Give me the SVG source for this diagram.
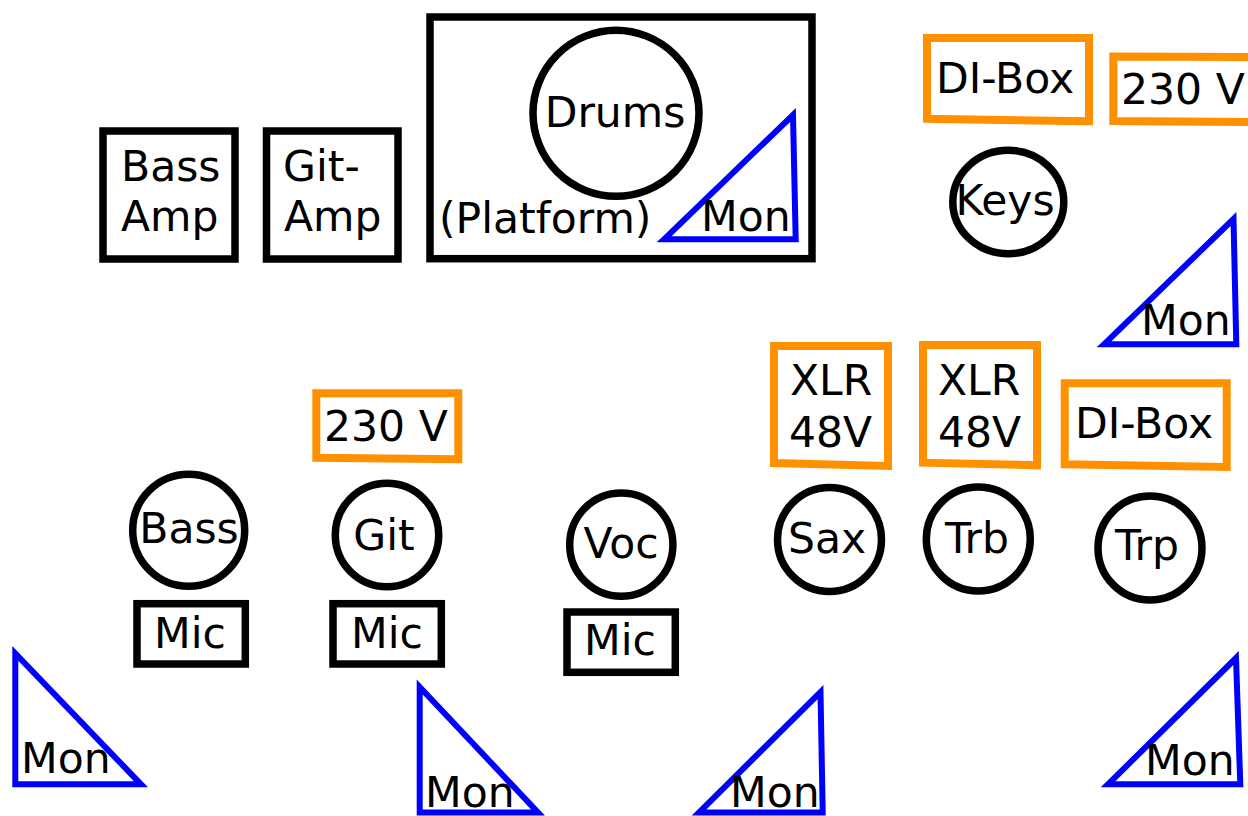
<svg xmlns="http://www.w3.org/2000/svg" width="1248" height="816" viewBox="0 0 1248 816">
<style>
text{font-family:"DejaVu Sans","Liberation Sans",sans-serif;font-size:42.5px;fill:#000}
.k{fill:#fff;stroke:#000;stroke-width:7.5}
.o{fill:#fff;stroke:#ff9100;stroke-width:8}
.b{fill:none;stroke:#0000ff;stroke-width:6;stroke-linejoin:miter;stroke-miterlimit:10}
.m{text-anchor:middle}
</style>
<rect width="1248" height="816" fill="#fff"/>
<g id="bass-amp"><rect class="k" x="103" y="131" width="132" height="128"/><text x="121" y="181">Bass</text><text x="121" y="231">Amp</text></g>
<g id="git-amp"><rect class="k" x="266.5" y="131" width="131.5" height="128"/><text x="283" y="181">Git-</text><text x="284" y="231">Amp</text></g>
<g id="platform"><rect class="k" x="430" y="17" width="382" height="241.7"/><text x="439" y="233">(Platform)</text></g>
<g id="drums"><circle class="k" cx="616" cy="113.3" r="83"/><text class="m" x="615" y="127">Drums</text></g>
<g id="mon-drums"><polygon class="b" points="664,239.3 793,115 795.7,239.3"/><text x="701" y="231">Mon</text></g>
<g id="di-box-1"><polygon class="o" points="927,38 1089,38 1089,121.3 927,118.7"/><text x="936" y="93">DI-Box</text></g>
<g id="power-1"><polygon class="o" points="1113.3,56.5 1262,57 1262,122 1113.3,121"/><text x="1121" y="104">230 V</text></g>
<g id="keys"><ellipse class="k" cx="1008.3" cy="202" rx="55.5" ry="51.7"/><text class="m" x="1005" y="215">Keys</text></g>
<g id="mon-keys"><polygon class="b" points="1104,344.3 1233.5,219 1236.3,344.3"/><text x="1141" y="335">Mon</text></g>
<g id="xlr-1"><polygon class="o" points="774,346 888,346 888,466 774,463"/><text x="790" y="395">XLR</text><text x="789" y="447">48V</text></g>
<g id="xlr-2"><polygon class="o" points="923,345 1037,345 1037,465.3 923,462.7"/><text x="938" y="395">XLR</text><text x="938" y="447">48V</text></g>
<g id="di-box-2"><polygon class="o" points="1064.7,383.3 1226.7,383.3 1226.7,467 1064.7,464.3"/><text x="1075" y="438">DI-Box</text></g>
<g id="sax"><circle class="k" cx="829.5" cy="539.5" r="52"/><text class="m" x="827" y="553">Sax</text></g>
<g id="trb"><circle class="k" cx="978.3" cy="539" r="52"/><text class="m" x="977" y="553">Trb</text></g>
<g id="trp"><circle class="k" cx="1150" cy="548" r="52"/><text class="m" x="1147" y="560">Trp</text></g>
<g id="power-2"><polygon class="o" points="316.3,393.3 458.3,393.3 458.3,459.3 316.3,457.7"/><text x="324" y="441">230 V</text></g>
<g id="bass"><circle class="k" cx="188.7" cy="530.3" r="56"/><text class="m" x="189" y="543">Bass</text></g>
<g id="git"><circle class="k" cx="387" cy="535" r="51.7"/><text class="m" x="384" y="550">Git</text></g>
<g id="voc"><circle class="k" cx="621.3" cy="544.7" r="51.6"/><text class="m" x="621" y="558">Voc</text></g>
<g id="mic-bass"><rect class="k" x="137" y="603.7" width="108.3" height="60.3"/><text class="m" x="190" y="648">Mic</text></g>
<g id="mic-git"><rect class="k" x="333" y="603.7" width="108.3" height="60.3"/><text class="m" x="387" y="648">Mic</text></g>
<g id="mic-voc"><rect class="k" x="567" y="612" width="108.3" height="60.3"/><text class="m" x="620" y="655">Mic</text></g>
<g id="mon-1"><polygon class="b" points="15.3,653.5 15.3,784.3 141,784.3"/><text x="21" y="773">Mon</text></g>
<g id="mon-2"><polygon class="b" points="419.7,687 419.7,812.5 538,812.5"/><text x="425" y="807">Mon</text></g>
<g id="mon-3"><polygon class="b" points="820.5,692 822.7,812.5 699,812.5"/><text x="730" y="807">Mon</text></g>
<g id="mon-4"><polygon class="b" points="1236,658 1240.3,784.3 1108,784.3"/><text x="1145" y="775">Mon</text></g>
<g id="connectors"/>
</svg>
